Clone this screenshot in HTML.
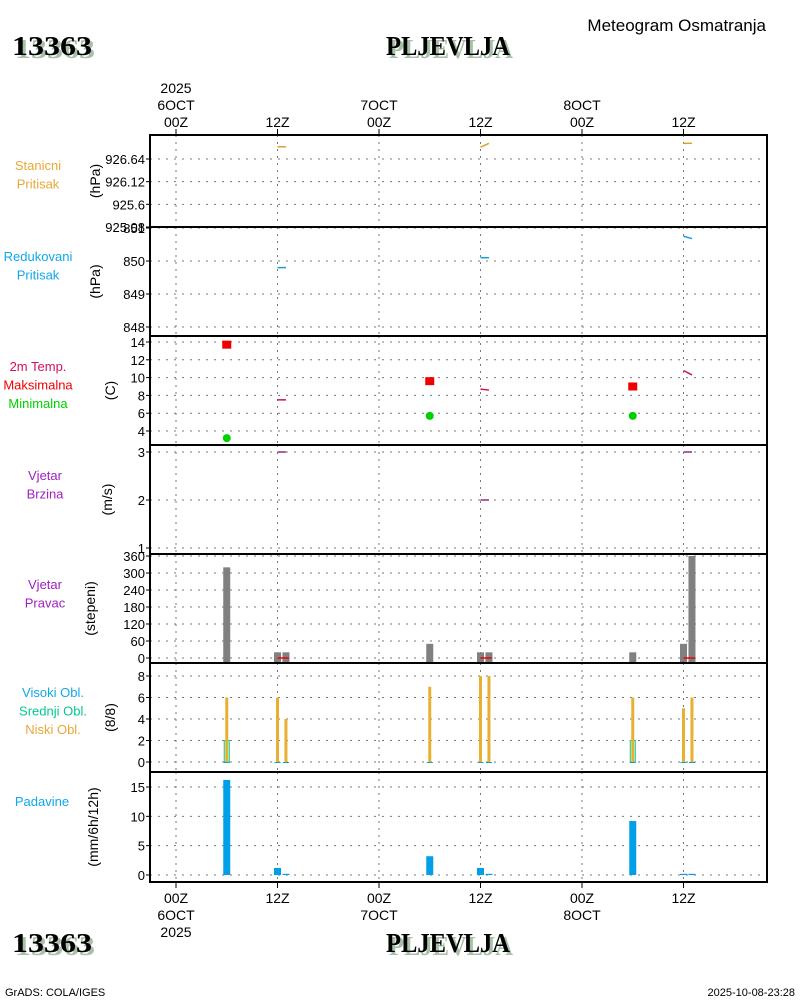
<!DOCTYPE html>
<html><head><meta charset="utf-8"><style>
html,body{margin:0;padding:0;background:#fff;width:800px;height:1000px;overflow:hidden}
svg{display:block}
text{font-family:"Liberation Sans",sans-serif}
text.serif{font-family:"Liberation Serif",serif}
</style></head><body>
<svg id="chart" width="800" height="1000" viewBox="0 0 800 1000" xmlns="http://www.w3.org/2000/svg">
<g>
<text class="serif" x="15" y="58" font-weight="bold" font-size="27" fill="#a8c0a8" textLength="80" lengthAdjust="spacingAndGlyphs">13363</text>
<text class="serif" x="12" y="55" font-weight="bold" font-size="27" fill="#000" textLength="80" lengthAdjust="spacingAndGlyphs">13363</text>
<text class="serif" x="389" y="58" font-weight="bold" font-size="27" fill="#a8c0a8" textLength="124" lengthAdjust="spacingAndGlyphs">PLJEVLJA</text>
<text class="serif" x="386" y="55" font-weight="bold" font-size="27" fill="#000" textLength="124" lengthAdjust="spacingAndGlyphs">PLJEVLJA</text>
<text x="766" y="31" text-anchor="end" font-size="17" fill="#000">Meteogram Osmatranja</text>
</g>
<g id="plot"></g>
<g>
<text class="serif" x="15" y="955" font-weight="bold" font-size="27" fill="#a8c0a8" textLength="80" lengthAdjust="spacingAndGlyphs">13363</text>
<text class="serif" x="12" y="952" font-weight="bold" font-size="27" fill="#000" textLength="80" lengthAdjust="spacingAndGlyphs">13363</text>
<text class="serif" x="389" y="955" font-weight="bold" font-size="27" fill="#a8c0a8" textLength="124" lengthAdjust="spacingAndGlyphs">PLJEVLJA</text>
<text class="serif" x="386" y="952" font-weight="bold" font-size="27" fill="#000" textLength="124" lengthAdjust="spacingAndGlyphs">PLJEVLJA</text>
<text x="5" y="996" font-size="11" fill="#000">GrADS: COLA/IGES</text>
<text x="795" y="996" text-anchor="end" font-size="11" fill="#000">2025-10-08-23:28</text>
</g>
</svg>
<script>
// ---- data (hours since 2025-10-06 00Z) ----
const timeTickHours = [0, 12, 24, 36, 48, 60];
const timeTickLabels = ["00Z", "12Z", "00Z", "12Z", "00Z", "12Z"];
const dayLabels = ["6OCT", "", "7OCT", "", "8OCT", ""];
const obsHours = [6, 12, 13, 30, 36, 37, 54, 60, 61];
const stnPresHours = [[12, 13], [36, 37], [60, 61]];
const stnPresValues = [[926.92, 926.92], [926.91, 927.0], [927.0, 927.0]];
const redPresValues = [[849.8, 849.8], [850.1, 850.1], [850.75, 850.68]];
const tempValues = [[7.5, 7.5], [8.7, 8.6], [10.8, 10.3]];
const windSpeedValues = [[3, 3], [2, 2], [3, 3]];
const maxTempHours = [6, 30, 54];
const maxTempValues = [13.7, 9.6, 9.0];
const minTempValues = [3.2, 5.7, 5.7];
const windDirValues = [320, 20, 20, 50, 20, 20, 20, 50, 360];
const lowCloudValues = [6, 6, 4, 7, 8, 8, 6, 5, 6];
const midCloudValues = [2, 0, 0, 0, 0, 0, 2, 0, 0];
const precipValues = [16.2, 1.2, 0.2, 3.2, 1.2, 0.2, 9.2, 0.2, 0.2];
const stnTicks = [925.08, 925.6, 926.12, 926.64];
const redTicks = [848, 849, 850, 851];
const tempTicks = [4, 6, 8, 10, 12, 14];
const wsTicks = [1, 2, 3];
const wdTicks = [0, 60, 120, 180, 240, 300, 360];
const cloudTicks = [0, 2, 4, 6, 8];
const precipTicks = [0, 5, 10, 15];

const NS = "http://www.w3.org/2000/svg";
const plot = document.getElementById("plot");
const X0 = 150, X1 = 767;
function xs(h) { return 176 + h * (101.5 / 12); }
function mk(tag, attrs, parent) {
  const e = document.createElementNS(NS, tag);
  for (const k in attrs) e.setAttribute(k, attrs[k]);
  (parent || plot).appendChild(e);
  return e;
}
function lin(v0, y0, v1, y1) { return v => y0 + (v - v0) * (y1 - y0) / (v1 - v0); }

const panels = [
  {name:"station-pressure", top:135, bot:227, ys:lin(925.08,227,926.64,159), ticks:stnTicks, unit:"(hPa)", unitX:100, labels:[["Stanicni","#e8a838"],["Pritisak","#e8a838"]], labX:38, labY:170},
  {name:"reduced-pressure", top:227, bot:336, ys:lin(848,327,851,228), ticks:redTicks, unit:"(hPa)", unitX:100, labels:[["Redukovani","#10a8e8"],["Pritisak","#10a8e8"]], labX:38, labY:261},
  {name:"temperature", top:336, bot:445, ys:lin(4,431,14,342), ticks:tempTicks, unit:"(C)", unitX:115, labels:[["2m Temp.","#d01060"],["Maksimalna","#f00000"],["Minimalna","#00d000"]], labX:38, labY:371},
  {name:"wind-speed", top:445, bot:554, ys:lin(1,548,3,452), ticks:wsTicks, unit:"(m/s)", unitX:112, labels:[["Vjetar","#a020c0"],["Brzina","#a020c0"]], labX:45, labY:480},
  {name:"wind-direction", top:554, bot:663, ys:lin(0,658,360,556), ticks:wdTicks, unit:"(stepeni)", unitX:95, labels:[["Vjetar","#a020c0"],["Pravac","#a020c0"]], labX:45, labY:589},
  {name:"cloud-cover", top:663, bot:772, ys:lin(0,762,8,676), ticks:cloudTicks, unit:"(8/8)", unitX:115, labels:[["Visoki Obl.","#10a8e8"],["Srednji Obl.","#00c890"],["Niski Obl.","#e8a838"]], labX:53, labY:697},
  {name:"precipitation", top:772, bot:882, ys:lin(0,875,15,787), ticks:precipTicks, unit:"(mm/6h/12h)", unitX:98, labels:[["Padavine","#10a8e8"]], labX:42, labY:806}
];

panels.forEach(p => {
  const g = mk("g", {});
  
  
  timeTickHours.forEach(h => {
    const l = mk("line", {x1:xs(h), x2:xs(h), y1:p.top, y2:p.bot, stroke:"#777", "stroke-width":1, "stroke-dasharray":"2,5"}, g);
    
    
  });
  p.ticks.forEach(v => {
    const y = p.ys(v);
    const l = mk("line", {x1:X0, x2:X1, y1:y, y2:y, stroke:"#777", "stroke-width":1, "stroke-dasharray":"2,6"}, g);
    
    
    mk("line", {x1:X0-4, x2:X0, y1:y, y2:y, stroke:"#000"}, g);
    const t = mk("text", {x:X0-5, y:y+5, "text-anchor":"end", "font-size":13, fill:"#000"}, g);
    t.textContent = String(v);
    
    
  });
  const cy = (p.top + p.bot) / 2;
  const u = mk("text", {x:p.unitX, y:cy, "text-anchor":"middle", "font-size":14, fill:"#000", transform:`rotate(-90 ${p.unitX} ${cy})`}, g);
  u.textContent = p.unit;
  
  
  p.labels.forEach((lb, i) => {
    const t = mk("text", {x:p.labX, y:p.labY + i * 18.5, "text-anchor":"middle", "font-size":13, fill:lb[1]}, g);
    t.textContent = lb[0];
    
    
  });
});

timeTickHours.forEach((h, i) => {
  const x = xs(h);
  mk("line", {x1:x, x2:x, y1:129, y2:135, stroke:"#000"});
  mk("line", {x1:x, x2:x, y1:882, y2:888, stroke:"#000"});
  const t = mk("text", {x:x, y:127, "text-anchor":"middle", "font-size":14, fill:"#000"});
  t.textContent = timeTickLabels[i];
  
  
  const b = mk("text", {x:x, y:903, "text-anchor":"middle", "font-size":14, fill:"#000"});
  b.textContent = timeTickLabels[i];
  
  
  if (dayLabels[i]) {
    const d = mk("text", {x:x, y:110, "text-anchor":"middle", "font-size":14, fill:"#000"});
    d.textContent = dayLabels[i];
    
    
    const d2 = mk("text", {x:x, y:920, "text-anchor":"middle", "font-size":14, fill:"#000"});
    d2.textContent = dayLabels[i];
    
    
  }
});
const yr1 = mk("text", {x:xs(0), y:93, "text-anchor":"middle", "font-size":14, fill:"#000"});
yr1.textContent = "2025";


const yr2 = mk("text", {x:xs(0), y:937, "text-anchor":"middle", "font-size":14, fill:"#000"});
yr2.textContent = "2025";



function segs(vals, p, color, name) {
  stnPresHours.forEach((hh, i) => {
    const l = mk("line", {x1:xs(hh[0]), x2:xs(hh[1]), y1:p.ys(vals[i][0]), y2:p.ys(vals[i][1]), stroke:color, "stroke-width":1.5});
    
    
  });
}
segs(stnPresValues, panels[0], "#e0a030", "station-pressure-line");
segs(redPresValues, panels[1], "#10a0e0", "reduced-pressure-line");
segs(tempValues, panels[2], "#d01060", "temperature-line");
segs(windSpeedValues, panels[3], "#8a2a8a", "wind-speed-line");

maxTempHours.forEach((h, i) => {
  const y = panels[2].ys(maxTempValues[i]);
  const r = mk("rect", {x:xs(h)-4.5, y:y-4, width:9, height:8, fill:"#f00000"});
  
  
  const c = mk("circle", {cx:xs(h), cy:panels[2].ys(minTempValues[i]), r:4, fill:"#00d000"});
  
  
});

obsHours.forEach((h, i) => {
  const p = panels[4], y = p.ys(windDirValues[i]);
  const r = mk("rect", {x:xs(h)-3.5, y:y, width:7, height:p.bot - y, fill:"#808080"});
  
  
});
stnPresHours.forEach(hh => {
  const l = mk("line", {x1:xs(hh[0]), x2:xs(hh[1])+3, y1:658, y2:658, stroke:"#f00000", "stroke-width":1.5});
  
  
});

obsHours.forEach((h, i) => {
  const p = panels[5], x = xs(h);
  if (midCloudValues[i] > 0) {
    const y = p.ys(midCloudValues[i]);
    const r = mk("rect", {x:x-2.5, y:y, width:5, height:p.ys(0) - y, fill:"none", stroke:"#00c890", "stroke-width":1});
    
    
  }
  const y = p.ys(lowCloudValues[i]);
  const r = mk("rect", {x:x-1.5, y:y, width:3, height:p.ys(0) - y, fill:"#e8b030"});
  
  
  const b = mk("line", {x1:x-3, x2:x+3, y1:p.ys(0)+0.5, y2:p.ys(0)+0.5, stroke:"#10a0c0", "stroke-width":1});
  
  
});

obsHours.forEach((h, i) => {
  const p = panels[6], y = p.ys(precipValues[i]);
  const r = mk("rect", {x:xs(h)-3.5, y:y, width:7, height:Math.max(1, p.ys(0) - y), fill:"#00a0e8"});
  
  
});

panels.forEach((p, i) => {
  if (i > 0) mk("line", {x1:X0, x2:X1+1, y1:p.top, y2:p.top, stroke:"#000", "stroke-width":2});
});
const frame = mk("rect", {x:X0, y:135, width:X1 - X0, height:882 - 135, fill:"none", stroke:"#000", "stroke-width":2});


</script>
</body></html>
